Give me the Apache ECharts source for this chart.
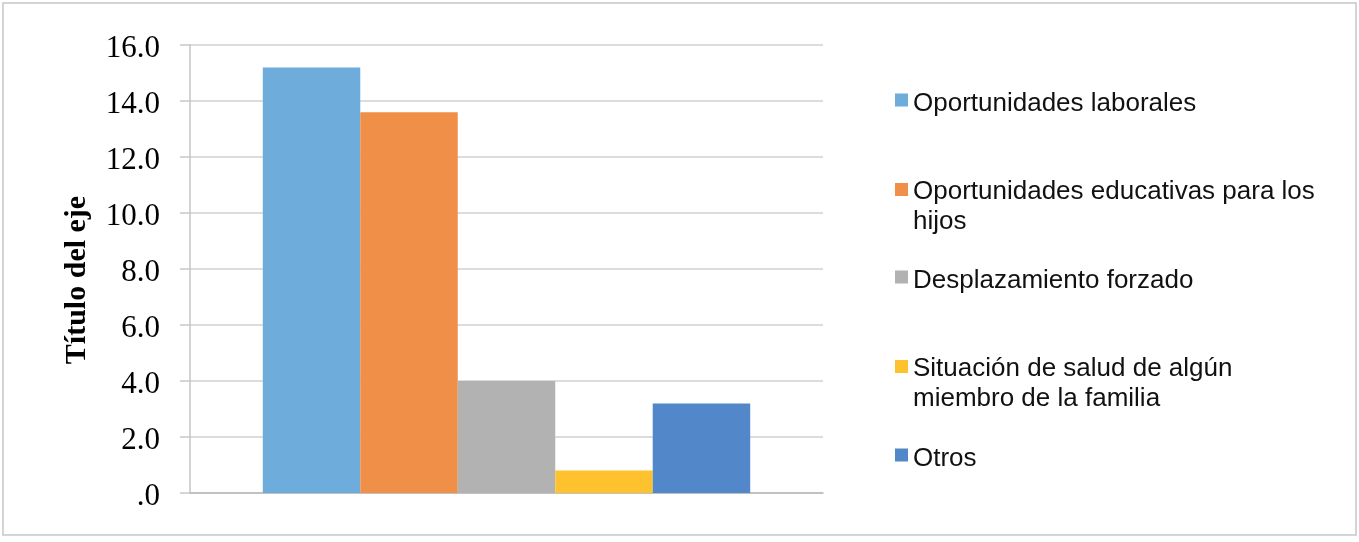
<!DOCTYPE html>
<html>
<head>
<meta charset="utf-8">
<script src="https://cdn.jsdelivr.net/npm/echarts@6/dist/echarts.min.js"></script>
<style>
html,body{margin:0;padding:0;background:#fff;}
#chart{width:1359px;height:542px;}
</style>
</head>
<body>
<div id="chart"></div>
<script>
// ---- data ----
var categories = [''];
var seriesNames = [
  'Oportunidades laborales',
  'Oportunidades educativas para los hijos',
  'Desplazamiento forzado',
  'Situación de salud de algún miembro de la familia',
  'Otros'
];
var legendLabels = [
  'Oportunidades laborales',
  'Oportunidades educativas para los\nhijos',
  'Desplazamiento forzado',
  'Situación de salud de algún\nmiembro de la familia',
  'Otros'
];
var seriesValues = [15.2, 13.6, 4.0, 0.8, 3.2];
var yTickLabels = ['.0', '2.0', '4.0', '6.0', '8.0', '10.0', '12.0', '14.0', '16.0'];
var axisTitle = 'Título del eje';

// ---- style ----
var colors = ['#6eacdc', '#f08f47', '#b2b2b2', '#fdc22d', '#5287c9'];
var legendTops = [89, 177, 266, 354, 444];
var legendLines = [1, 2, 1, 2, 1];

function iconFor(lines) {
  // square at top of a taller (invisible) box so it lines up with the first text line
  var h = lines === 2 ? 48 : 21;
  var p = (h / 1.3).toFixed(2);
  return { icon: 'path://M0,0L10,0L10,10L0,10Z M0,' + p + 'L0.01,' + p, h: h };
}

var chart = echarts.init(document.getElementById('chart'));

var series = seriesNames.map(function (n, i) {
  return {
    name: n,
    type: 'bar',
    data: [seriesValues[i]],
    barGap: '0%',
    barCategoryGap: '23%',
    itemStyle: { color: colors[i] },
    emphasis: { disabled: true }
  };
});

var legends = seriesNames.map(function (n, i) {
  var ic = iconFor(legendLines[i]);
  return {
    data: [n],
    left: 895,
    top: legendTops[i],
    orient: 'vertical',
    padding: 0,
    itemWidth: 13,
    itemHeight: ic.h,
    icon: ic.icon,
    selectedMode: false,
    formatter: function (name) {
      return legendLabels[seriesNames.indexOf(name)];
    },
    textStyle: {
      fontFamily: 'Liberation Sans, Arial, sans-serif',
      fontSize: 26,
      lineHeight: 30,
      color: '#111'
    }
  };
});

chart.setOption({
  animation: false,
  color: colors,
  grid: { left: 190, right: 536, top: 45, bottom: 49, containLabel: false },
  legend: legends,
  xAxis: {
    type: 'category',
    data: categories,
    axisLine: { show: true, lineStyle: { color: '#b8b8b8', width: 1.5 } },
    axisTick: { show: false },
    axisLabel: { show: false },
    splitLine: { show: false }
  },
  yAxis: {
    type: 'value',
    min: 0,
    max: 16,
    interval: 2,
    name: axisTitle,
    nameLocation: 'middle',
    nameGap: 98,
    nameRotate: 90,
    nameTextStyle: {
      fontFamily: 'Liberation Serif, Times New Roman, serif',
      fontWeight: 'bold',
      fontSize: 30,
      color: '#000',
      padding: [0, 22, 0, 0]
    },
    axisLine: { show: true, lineStyle: { color: '#c4c4c4', width: 1.5 } },
    axisTick: { show: true, length: 10, lineStyle: { color: '#c8c8c8', width: 1.5 } },
    axisLabel: {
      margin: 30,
      formatter: function (v) { return '{t|' + yTickLabels[Math.round(v / 2)] + '}'; },
      rich: {
        t: {
          fontFamily: 'Liberation Serif, Times New Roman, serif',
          fontSize: 31,
          color: '#000',
          padding: [8, 0, 0, 0]
        }
      }
    },
    splitLine: { show: true, lineStyle: { color: '#d0d0d0', width: 1.5 } }
  },
  series: series,
  graphic: [{
    type: 'rect',
    silent: true,
    shape: { x: 3, y: 3, width: 1353, height: 532 },
    style: { fill: 'none', stroke: '#c6c6c6', lineWidth: 1.5 }
  }]
});
</script>
</body>
</html>
